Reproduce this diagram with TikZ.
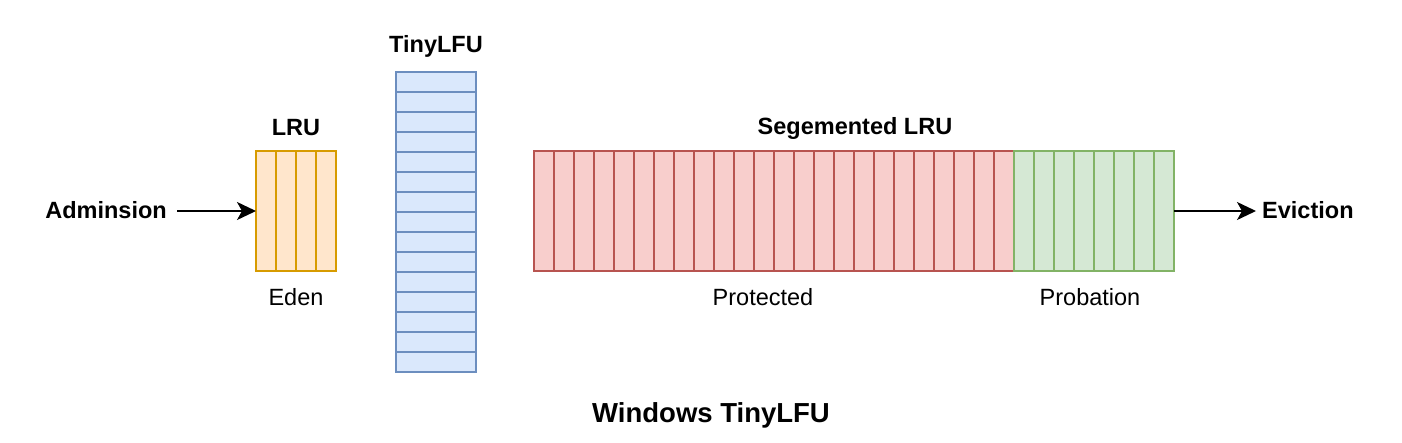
\documentclass[tikz,border=0pt]{standalone}
\usepackage{fontspec}
\setmainfont{Liberation Sans}
\usetikzlibrary{arrows.meta}

\definecolor{edenfill}{HTML}{FFE6CC}
\definecolor{edenline}{HTML}{D79B00}
\definecolor{lfufill}{HTML}{DAE8FC}
\definecolor{lfuline}{HTML}{6C8EBF}
\definecolor{protfill}{HTML}{F8CECC}
\definecolor{protline}{HTML}{B85450}
\definecolor{probfill}{HTML}{D5E8D4}
\definecolor{probline}{HTML}{82B366}

\tikzset{
  title/.style = {font=\fontsize{23.5}{28}\selectfont\bfseries, inner sep=0pt},
  caption/.style = {font=\fontsize{23.5}{28}\selectfont, inner sep=0pt},
  box/.style = {line width=1.6pt, inner sep=0pt, outer sep=0pt},
  cell/.style = {line width=1.6pt},
  flow/.style = {line width=1.8pt, -{Stealth[length=19pt,width=18pt,inset=5pt]}}
}

\begin{document}
\begin{tikzpicture}[x=1pt, y=-1pt]
    \useasboundingbox (0,0) rectangle (1402,442);

    % Eden window (LRU)
    \node[box, draw=edenline, fill=edenfill, minimum width=80pt, minimum height=120pt] (eden) at (296,211) {};
    \foreach \i in {1,...,3}
        \draw[cell, edenline] (256+20*\i,151) -- ++(0,120);

    % TinyLFU column
    \node[box, draw=lfuline, fill=lfufill, minimum width=80pt, minimum height=300pt] (lfu) at (436,222) {};
    \foreach \i in {1,...,14}
        \draw[cell, lfuline] (396,72+20*\i) -- ++(80,0);

    % Segmented LRU: protected and probation
    \node[box, draw=protline, fill=protfill, minimum width=480pt, minimum height=120pt] (prot) at (774,211) {};
    \foreach \i in {1,...,23}
        \draw[cell, protline] (534+20*\i,151) -- ++(0,120);
    \node[box, draw=probline, fill=probfill, minimum width=160pt, minimum height=120pt] (prob) at (1094,211) {};
    \foreach \i in {1,...,7}
        \draw[cell, probline] (1014+20*\i,151) -- ++(0,120);

    % Titles and captions
    \node[title, anchor=base] (lru) at (296,135) {LRU};
    \node[title, anchor=base] (tiny) at (436,52) {TinyLFU};
    \node[title, anchor=base] (slru) at (855,134) {Segemented LRU};
    \node[caption, anchor=base] (edenlbl) at (296,305) {Eden};
    \node[caption, anchor=base] (protlbl) at (763,305) {Protected};
    \node[caption, anchor=base] (problbl) at (1090,305) {Probation};
    \node[title, anchor=base, font=\fontsize{27.5}{32}\selectfont\bfseries] (wtlfu) at (711,422) {Windows TinyLFU};

    % Admission and eviction
    \node[title, anchor=base east] (adm) at (167,218) {Adminsion};
    \node[title, anchor=base west] (evict) at (1262,218) {Eviction};
    \draw[flow, shorten <=10pt] (adm.east |- eden.west) -- (eden.west);
    \draw[flow, shorten >=6pt] (prob.east) -- (prob.east -| evict.west);
\end{tikzpicture}
\end{document}
